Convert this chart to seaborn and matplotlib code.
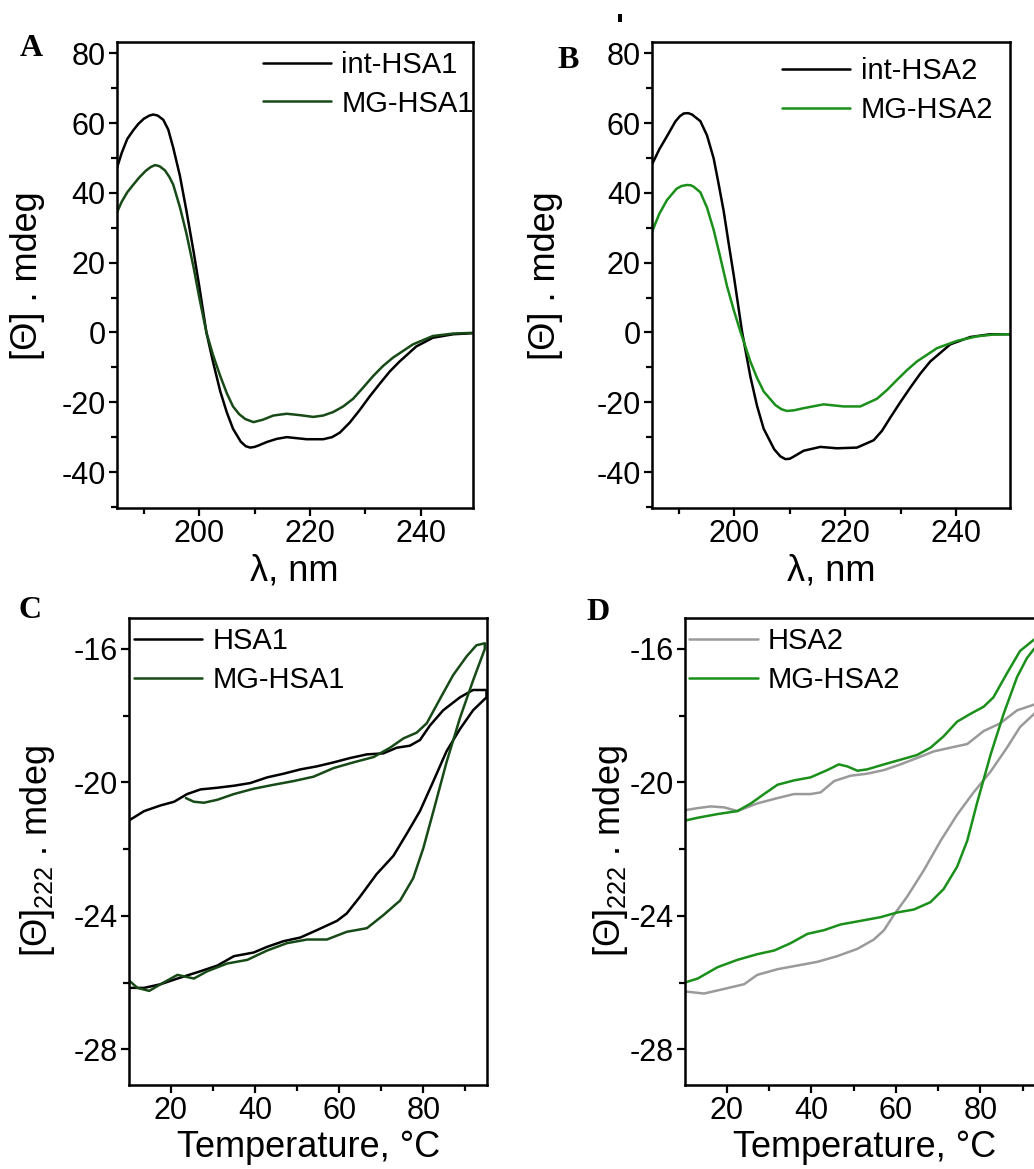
import numpy as np
import pandas as pd
import matplotlib
matplotlib.use("Agg")
import matplotlib.pyplot as plt
from matplotlib.ticker import MultipleLocator
from matplotlib.patches import Rectangle
import seaborn as sns

# ---------------- CD spectra (panel A) ----------------
wl_int1 = [185.1, 186.0, 187.0, 188.1, 189.0, 190.0, 191.0, 191.7, 192.5, 193.5, 194.4,
           195.3, 196.5, 197.7, 199.0, 200.0, 201.3, 202.5, 203.8, 205.0, 206.1, 207.5,
           208.4, 209.2, 210.0, 210.7, 212.2, 214.0, 215.8, 217.6, 219.4, 222.4, 224.0,
           225.4, 227.2, 229.0, 230.8, 232.6, 234.4, 236.2, 239.2, 242.2, 245.9, 249.4]
cd_int1 = [47.0, 51.5, 55.5, 58.0, 59.8, 61.3, 62.2, 62.5, 62.2, 61.0, 58.2,
           53.0, 45.0, 34.8, 23.0, 13.3, 0.0, -8.5, -16.9, -23.0, -27.6, -31.3,
           -32.6, -33.0, -32.8, -32.4, -31.4, -30.5, -30.0, -30.3, -30.6, -30.6, -30.0,
           -28.7, -25.8, -22.2, -18.3, -14.7, -11.2, -8.3, -4.0, -1.5, -0.5, -0.2]

wl_mg1 = [185.1, 186.0, 187.0, 188.1, 189.2, 190.3, 191.2, 192.0, 192.8, 193.8, 194.6,
          195.3, 196.5, 197.7, 199.0, 200.0, 201.3, 202.5, 203.8, 205.0, 206.1, 207.2,
          208.3, 209.8, 211.5, 213.4, 215.8, 218.2, 220.6, 222.4, 224.2, 226.0, 227.8,
          229.6, 231.4, 233.2, 235.0, 238.6, 242.2, 245.9, 249.4]
cd_mg1 = [34.3, 37.5, 40.2, 42.4, 44.5, 46.3, 47.4, 48.0, 47.7, 46.5, 44.6,
          42.4, 36.0, 28.3, 18.5, 10.1, 0.0, -6.5, -12.5, -17.5, -21.2, -23.4,
          -24.8, -25.7, -25.0, -23.8, -23.3, -23.7, -24.2, -23.8, -22.8, -21.2, -19.0,
          -15.8, -12.5, -9.6, -7.2, -3.4, -1.0, -0.3, -0.1]

# ---------------- CD spectra (panel B) ----------------
wl_int2 = [185.2, 186.5, 187.9, 189.4, 190.2, 190.9, 191.7, 192.4, 193.9, 195.1, 196.3,
           197.2, 198.1, 199.0, 199.9, 201.4, 202.9, 204.1, 205.3, 207.2, 208.3, 209.2,
           210.0, 210.8, 212.5, 215.5, 218.5, 222.1, 225.1, 226.6, 228.1, 229.9, 231.7,
           233.5, 235.3, 238.9, 242.5, 246.1, 249.6]
cd_int2 = [48.2, 52.5, 56.3, 60.5, 62.0, 62.8, 62.9, 62.5, 60.6, 56.5, 49.9,
           42.5, 34.8, 25.5, 16.5, 0.3, -12.6, -21.0, -27.6, -33.5, -35.5, -36.3,
           -36.2, -35.5, -33.9, -32.8, -33.2, -33.0, -30.9, -28.2, -24.4, -20.0, -15.8,
           -11.8, -8.3, -3.4, -1.3, -0.5, -0.5]

wl_mg2 = [185.2, 186.5, 187.9, 189.6, 190.5, 191.5, 192.2, 192.7, 193.9, 195.1, 196.3,
          197.5, 198.7, 199.9, 201.1, 202.9, 204.1, 205.3, 207.4, 208.5, 209.5, 210.8,
          212.5, 216.1, 219.7, 222.7, 225.7, 227.5, 229.3, 231.1, 232.9, 236.5, 240.1,
          243.7, 246.6, 249.6]
cd_mg2 = [28.9, 34.0, 38.0, 41.2, 42.0, 42.3, 42.2, 41.8, 40.2, 35.8, 29.4,
          21.5, 13.3, 6.5, 0.3, -8.3, -13.0, -16.9, -20.8, -22.0, -22.5, -22.3,
          -21.7, -20.6, -21.2, -21.2, -19.0, -16.5, -13.6, -10.8, -8.3, -4.5, -2.4,
          -1.1, -0.6, -0.5]

# ---------------- Thermal loops at 222 nm (panel C) ----------------
temp_hsa1 = [10.1, 13.7, 17.6, 21.6, 27.1, 31.1, 35.0, 39.7, 42.9, 46.8, 50.8, 54.7, 59.5,
             61.8, 65.0, 68.9, 72.9, 76.1, 79.2, 82.4, 85.5, 88.7, 91.8, 95.0,
             95.0, 91.8, 88.7, 84.7, 81.6, 79.2, 76.8, 73.7, 70.5, 66.6, 62.6, 58.7,
             54.7, 50.8, 46.8, 42.9, 38.9, 35.0, 31.1, 27.1, 23.9, 20.8, 17.6, 13.7, 10.1]
th_hsa1 = [-26.16, -26.16, -26.05, -25.88, -25.66, -25.49, -25.21, -25.10, -24.93, -24.76,
           -24.65, -24.43, -24.15, -23.93, -23.42, -22.75, -22.20, -21.53, -20.86, -19.96,
           -19.07, -18.40, -17.84, -17.45,
           -17.23, -17.23, -17.45, -17.84, -18.29, -18.73, -18.90, -18.96, -19.13, -19.16,
           -19.27, -19.40, -19.52, -19.61, -19.74, -19.85, -20.02, -20.10, -20.16, -20.21,
           -20.35, -20.58, -20.69, -20.86, -21.14]

temp_mg1 = [10.1, 12.1, 14.9, 17.6, 21.6, 25.5, 28.7, 33.4, 38.2, 42.9, 47.6, 52.4, 57.1,
            61.8, 66.6, 70.5, 74.5, 77.6, 80.0, 82.4, 85.5, 88.7, 91.8, 94.6,
            94.6, 92.6, 90.3, 87.1, 83.9, 80.8, 78.4, 75.3, 72.1, 68.2, 63.4, 58.7,
            53.9, 49.2, 44.5, 39.7, 35.0, 31.1, 27.9, 25.5, 23.6]
th_mg1 = [-25.94, -26.16, -26.25, -26.05, -25.77, -25.88, -25.66, -25.43, -25.32, -25.04,
          -24.82, -24.71, -24.71, -24.48, -24.37, -23.98, -23.54, -22.87, -21.97, -20.86,
          -19.40, -18.07, -16.95, -16.00,
          -15.83, -15.89, -16.22, -16.78, -17.51, -18.23, -18.51, -18.68, -18.96, -19.24,
          -19.40, -19.57, -19.83, -19.96, -20.07, -20.19, -20.35, -20.52, -20.61, -20.58,
          -20.47]

# ---------------- Thermal loops at 222 nm (panel D) ----------------
temp_hsa2 = [10.3, 14.6, 19.4, 24.1, 27.2, 32.0, 36.7, 41.4, 46.1, 50.9, 54.8, 57.2, 59.5,
             62.7, 66.6, 70.6, 74.5, 78.4, 82.4, 86.3, 89.4, 92.7, 95.0,
             95.0, 92.7, 88.7, 84.7, 80.8, 76.9, 72.9, 69.0, 65.0, 61.1, 57.2, 53.2, 49.3,
             45.4, 42.2, 39.8, 35.9, 32.0, 27.2, 22.5, 19.4, 16.2, 13.1, 10.3]
th_hsa2 = [-26.27, -26.33, -26.19, -26.05, -25.77, -25.60, -25.49, -25.38, -25.21, -24.99,
           -24.71, -24.43, -23.98, -23.42, -22.64, -21.75, -20.97, -20.30, -19.68, -18.96,
           -18.34, -17.95, -17.70,
           -17.50, -17.67, -17.84, -18.23, -18.46, -18.85, -18.96, -19.07, -19.27, -19.46,
           -19.63, -19.74, -19.80, -19.96, -20.30, -20.35, -20.35, -20.47, -20.63, -20.86,
           -20.75, -20.72, -20.77, -20.83]

temp_mg2 = [10.3, 13.1, 17.8, 22.5, 27.2, 31.2, 35.1, 39.1, 43.0, 46.9, 51.7, 56.4, 60.3,
            64.3, 68.2, 71.3, 74.5, 76.9, 79.2, 82.4, 85.5, 88.7, 91.0, 92.7, 95.0,
            95.0, 92.7, 89.4, 86.3, 83.1, 80.8, 77.6, 74.5, 71.3, 68.2, 65.0, 61.1, 57.2,
            53.2, 50.9, 48.5, 46.5, 43.8, 39.8, 35.9, 32.0, 28.8, 25.7, 22.5, 17.8, 13.1, 10.3]
th_mg2 = [-25.99, -25.88, -25.54, -25.32, -25.15, -25.04, -24.82, -24.54, -24.43, -24.26,
          -24.15, -24.04, -23.90, -23.81, -23.59, -23.20, -22.53, -21.75, -20.63, -19.18,
          -17.95, -16.84, -16.28, -16.00, -15.75,
          -15.72, -15.72, -16.06, -16.73, -17.45, -17.73, -17.95, -18.18, -18.62, -18.96,
          -19.18, -19.32, -19.46, -19.61, -19.65, -19.52, -19.46, -19.63, -19.85, -19.94,
          -20.07, -20.35, -20.63, -20.86, -20.95, -21.06, -21.14]

BLACK = "#000000"
DARK_GREEN = "#174a17"
GREEN = "#1a8f1a"
GREY = "#9a9a9a"

sns.set_theme(style="ticks")
plt.rcParams["font.family"] = ["Liberation Sans", "DejaVu Sans"]
plt.rcParams["mathtext.fontset"] = "custom"
plt.rcParams["mathtext.rm"] = "Liberation Sans"
plt.rcParams["mathtext.it"] = "Liberation Sans:italic"
plt.rcParams["axes.unicode_minus"] = False
for key in ("text.color", "axes.labelcolor", "xtick.color", "ytick.color"):
    plt.rcParams[key] = "black"

TICK_FS = 22
LABEL_FS = 26
LEG_FS = 21

fig = plt.figure(figsize=(10.34, 11.69), dpi=100)

axA = fig.add_axes([0.1129, 0.5652, 0.3443, 0.3986])
axB = fig.add_axes([0.6306, 0.5652, 0.3459, 0.3986])
axC = fig.add_axes([0.1248, 0.0719, 0.3465, 0.3995])
axD = fig.add_axes([0.6625, 0.0719, 0.3477, 0.3995])


def series(x, y, name):
    return pd.DataFrame({"x": x, "y": y, "series": name})


def draw(ax, frames, palette):
    data = pd.concat(frames, ignore_index=True)
    sns.lineplot(data=data, x="x", y="y", hue="series", palette=palette,
                 sort=False, estimator=None, linewidth=1.8, ax=ax)


def style_axes(ax, xlim, ylim, xmaj, xmin, ymaj, ymin, xlabel, ylabel, leg_anchor,
               ylabelpad):
    ax.set_xlim(*xlim)
    ax.set_ylim(*ylim)
    ax.xaxis.set_major_locator(MultipleLocator(xmaj))
    ax.xaxis.set_minor_locator(MultipleLocator(xmin))
    ax.yaxis.set_major_locator(MultipleLocator(ymaj))
    ax.yaxis.set_minor_locator(MultipleLocator(ymin))
    ax.tick_params(which="both", direction="out", width=1.6, colors="black",
                   top=False, right=False, labelsize=TICK_FS, pad=2)
    ax.tick_params(which="major", length=6)
    ax.tick_params(which="minor", length=4)
    for sp in ax.spines.values():
        sp.set_visible(True)
        sp.set_linewidth(1.8)
        sp.set_color("black")
    ax.set_xlabel(xlabel, fontsize=LABEL_FS, labelpad=3)
    ax.set_ylabel(ylabel, fontsize=LABEL_FS, labelpad=ylabelpad)
    ax.legend(loc="upper left", bbox_to_anchor=leg_anchor, frameon=False,
              fontsize=LEG_FS, handlelength=2.35, handletextpad=0.35,
              labelspacing=0.36, borderpad=0, borderaxespad=0, title=None)


# Panel A
draw(axA, [series(wl_int1, cd_int1, "int-HSA1"), series(wl_mg1, cd_mg1, "MG-HSA1")],
     {"int-HSA1": BLACK, "MG-HSA1": DARK_GREEN})
style_axes(axA, (185.1, 249.4), (-50.4, 83.2), 20, 10, 20, 10,
           "λ, nm", "[Θ] . mdeg", (0.41, 0.981), 12)

# Panel B
draw(axB, [series(wl_int2, cd_int2, "int-HSA2"), series(wl_mg2, cd_mg2, "MG-HSA2")],
     {"int-HSA2": BLACK, "MG-HSA2": GREEN})
style_axes(axB, (185.2, 249.6), (-50.4, 83.2), 20, 10, 20, 10,
           "λ, nm", "[Θ] . mdeg", (0.363, 0.968), 24)

# Panel C
draw(axC, [series(temp_hsa1, th_hsa1, "HSA1"), series(temp_mg1, th_mg1, "MG-HSA1")],
     {"HSA1": BLACK, "MG-HSA1": DARK_GREEN})
style_axes(axC, (10.1, 95.2), (-29.07, -15.07), 20, 10, 4, 2,
           "Temperature, °C", r"[Θ]$_{\mathit{222}}$ . mdeg", (0.013, 0.980), 12)

# Panel D
draw(axD, [series(temp_hsa2, th_hsa2, "HSA2"), series(temp_mg2, th_mg2, "MG-HSA2")],
     {"HSA2": GREY, "MG-HSA2": GREEN})
style_axes(axD, (10.1, 95.2), (-29.07, -15.07), 20, 10, 4, 2,
           "Temperature, °C", r"[Θ]$_{\mathit{222}}$ . mdeg", (0.012, 0.980), 0)

# Panel letters
for letter, (px, py) in {"A": (31, 48), "B": (568, 60), "C": (30, 610), "D": (598, 612)}.items():
    fig.text(px / 1034, 1 - py / 1169, letter, fontsize=23, fontweight="bold",
             family="Liberation Serif", ha="center", va="center")

# small stray mark above panel B
fig.add_artist(Rectangle((618 / 1034, 1 - 22 / 1169), 4 / 1034, 8 / 1169,
                         transform=fig.transFigure, color="black", lw=0))

fig.savefig("out.png", dpi=100)
